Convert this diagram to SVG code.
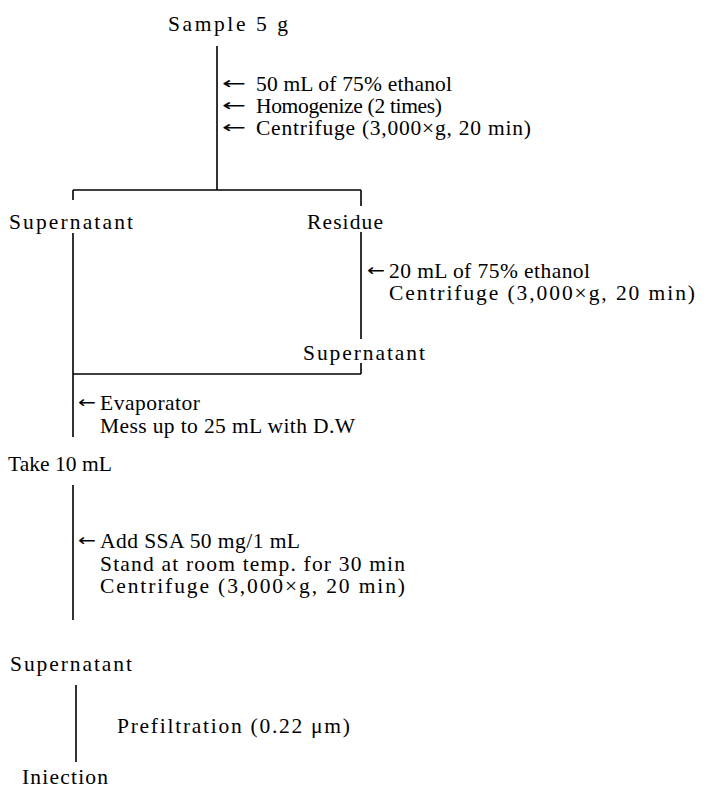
<svg xmlns="http://www.w3.org/2000/svg" width="708" height="789" viewBox="0 0 708 789">
<style>
text{font-family:"Liberation Serif","Times New Roman",serif;font-size:21.5px;fill:#000}
.ar{font-family:"DejaVu Sans","Liberation Serif",sans-serif;font-size:17px}
.ln{stroke:#000;stroke-width:1.6;fill:none}
</style>
<rect width="708" height="789" fill="#fff"/>
<g id="connectors">
<path class="ln" d="M217,46 V190 M73,190 H361 M73,190 V200 M361,190 V206 M73,233 V437 M361,232 V339 M361,363 V374 M73,374 H361 M73,485 V620 M76,685 V762"/>
</g>
<g id="sample"><text x="168" y="31" textLength="120" lengthAdjust="spacing">Sample 5 g</text></g>
<g id="step1">
<text class="ar" x="222" y="89" textLength="24" lengthAdjust="spacingAndGlyphs">←</text>
<text x="256" y="91" textLength="196" lengthAdjust="spacing">50 mL of 75% ethanol</text>
<text class="ar" x="222" y="111" textLength="24" lengthAdjust="spacingAndGlyphs">←</text>
<text x="256" y="113" textLength="186" lengthAdjust="spacing">Homogenize (2 times)</text>
<text class="ar" x="222" y="133" textLength="24" lengthAdjust="spacingAndGlyphs">←</text>
<text x="256" y="135" textLength="275" lengthAdjust="spacing">Centrifuge (3,000×g, 20 min)</text>
</g>
<g id="supernatant1"><text x="9" y="229" textLength="124" lengthAdjust="spacing">Supernatant</text></g>
<g id="residue"><text x="307" y="229" textLength="76" lengthAdjust="spacing">Residue</text></g>
<g id="step2">
<text class="ar" x="367" y="276" textLength="18" lengthAdjust="spacingAndGlyphs">←</text>
<text x="389" y="278" textLength="201" lengthAdjust="spacing">20 mL of 75% ethanol</text>
<text x="389" y="300" textLength="306" lengthAdjust="spacing">Centrifuge (3,000×g, 20 min)</text>
</g>
<g id="supernatant2"><text x="303" y="360" textLength="122" lengthAdjust="spacing">Supernatant</text></g>
<g id="step3">
<text class="ar" x="78" y="408" textLength="18" lengthAdjust="spacingAndGlyphs">←</text>
<text x="100" y="410" textLength="100" lengthAdjust="spacing">Evaporator</text>
<text x="100" y="433" textLength="255" lengthAdjust="spacing">Mess up to 25 mL with D.W</text>
</g>
<g id="take"><text x="8" y="471" textLength="104" lengthAdjust="spacing">Take 10 mL</text></g>
<g id="step4">
<text class="ar" x="78" y="546" textLength="18" lengthAdjust="spacingAndGlyphs">←</text>
<text x="100" y="548" textLength="200" lengthAdjust="spacing">Add SSA 50 mg/1 mL</text>
<text x="100" y="571" textLength="305" lengthAdjust="spacing">Stand at room temp. for 30 min</text>
<text x="100" y="593" textLength="305" lengthAdjust="spacing">Centrifuge (3,000×g, 20 min)</text>
</g>
<g id="supernatant3"><text x="10" y="671" textLength="122" lengthAdjust="spacing">Supernatant</text></g>
<g id="step5"><text x="117" y="733" textLength="233" lengthAdjust="spacing">Prefiltration (0.22 μm)</text></g>
<g id="injection"><text x="22" y="784" textLength="86" lengthAdjust="spacing">Iniection</text></g>
</svg>
